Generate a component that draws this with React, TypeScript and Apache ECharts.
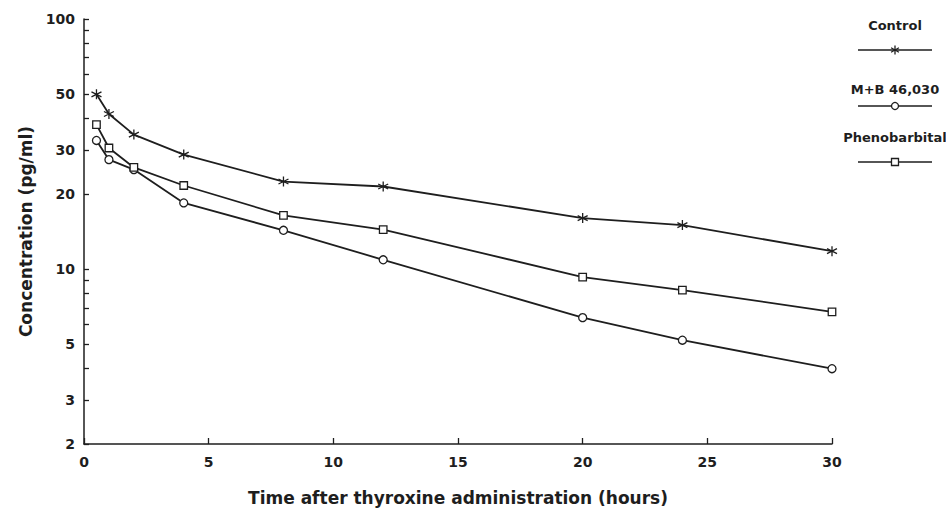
import React, { useEffect, useRef } from "react";
import * as echarts from "echarts";

// Time after thyroxine administration (hours)
const hours = [0.5, 1, 2, 4, 8, 12, 20, 24, 30];
// Concentration (pg/ml)
const control = [50, 41.7, 34.5, 28.7, 22.4, 21.4, 16.0, 15.0, 11.8];
const mb46030 = [32.7, 27.4, 25.0, 18.4, 14.3, 10.9, 6.4, 5.2, 4.0];
const phenobarbital = [37.8, 30.5, 25.5, 21.6, 16.4, 14.4, 9.3, 8.25, 6.75];
const seriesNames = ["Control", "M+B 46,030", "Phenobarbital"];
const yLabelValues = [2, 3, 5, 10, 20, 30, 50, 100];
const yTickValues = [2, 3, 4, 5, 6, 7, 8, 9, 10, 20, 30, 40, 50, 60, 70, 80, 90, 100];

const INK = "#1e1e1e";
const FONT = "DejaVu Sans";
const ASTERISK = "path://M5,0L5,10M0.67,2.5L9.33,7.5M0.67,7.5L9.33,2.5";

export default function App() {
  const ref = useRef<HTMLDivElement>(null);
  useEffect(() => {
    document.body.style.margin = "0";
    if (!ref.current) return;
    const chart = echarts.init(ref.current, undefined, { renderer: "svg" });
    const toPts = (vals: number[]) => hours.map((h, i) => [h, Math.log10(vals[i])]);

    const legendX = 895;
    const legendItems = [
      { name: seriesNames[0], ty: 25, ly: 50, kind: "asterisk" },
      { name: seriesNames[1], ty: 89, ly: 106, kind: "circle" },
      { name: seriesNames[2], ty: 137, ly: 162, kind: "square" },
    ];
    const graphics: any[] = [];
    legendItems.forEach((it) => {
      graphics.push({
        type: "text",
        x: legendX,
        y: it.ty,
        style: { text: it.name, fill: INK, font: `bold 13px "${FONT}"`, align: "center", verticalAlign: "middle" },
      });
      graphics.push({
        type: "line",
        shape: { x1: 858, y1: it.ly, x2: 932, y2: it.ly },
        style: { stroke: INK, lineWidth: 1.6 },
      });
      if (it.kind === "circle") {
        graphics.push({ type: "circle", shape: { cx: legendX, cy: it.ly, r: 3.5 }, style: { fill: "#fff", stroke: INK, lineWidth: 1.3 } });
      } else if (it.kind === "square") {
        graphics.push({ type: "rect", shape: { x: legendX - 3.5, y: it.ly - 3.5, width: 7, height: 7 }, style: { fill: "#fff", stroke: INK, lineWidth: 1.3 } });
      } else {
        const s = 4.5;
        graphics.push({ type: "line", shape: { x1: legendX, y1: it.ly - s, x2: legendX, y2: it.ly + s }, style: { stroke: INK, lineWidth: 1.3 } });
        graphics.push({ type: "line", shape: { x1: legendX - s * 0.87, y1: it.ly - s / 2, x2: legendX + s * 0.87, y2: it.ly + s / 2 }, style: { stroke: INK, lineWidth: 1.3 } });
        graphics.push({ type: "line", shape: { x1: legendX - s * 0.87, y1: it.ly + s / 2, x2: legendX + s * 0.87, y2: it.ly - s / 2 }, style: { stroke: INK, lineWidth: 1.3 } });
      }
    });

    const baseSeries = {
      type: "line",
      lineStyle: { color: INK, width: 1.8 },
      symbolSize: 8,
      z: 3,
    };

    chart.setOption({
      animation: false,
      backgroundColor: "#fff",
      grid: { left: 84, right: 114, top: 19, bottom: 67, containLabel: false, outerBoundsMode: "none" },
      xAxis: {
        type: "value",
        min: 0,
        max: 30,
        interval: 5,
        name: "Time after thyroxine administration (hours)",
        nameLocation: "middle",
        nameGap: 45,
        nameTextStyle: { color: INK, fontFamily: FONT, fontWeight: "bold", fontSize: 17 },
        axisLine: { show: true, lineStyle: { color: INK, width: 1.5 } },
        axisTick: { show: true, inside: true, length: 6, lineStyle: { color: INK, width: 1.3 } },
        axisLabel: { color: INK, fontFamily: FONT, fontWeight: "bold", fontSize: 14, margin: 11 },
        splitLine: { show: false },
      },
      yAxis: {
        type: "value",
        min: Math.log10(2),
        max: 2,
        name: "Concentration (pg/ml)",
        nameLocation: "middle",
        nameRotate: 90,
        nameGap: 45,
        nameTextStyle: { color: INK, fontFamily: FONT, fontWeight: "bold", fontSize: 17 },
        axisLine: { show: true, lineStyle: { color: INK, width: 1.5 } },
        axisTick: {
          show: true,
          inside: true,
          length: 5,
          customValues: yTickValues.map((v) => Math.log10(v)),
          lineStyle: { color: INK, width: 1.3 },
        },
        axisLabel: {
          color: INK,
          fontFamily: FONT,
          fontWeight: "bold",
          fontSize: 14,
          margin: 9,
          customValues: yLabelValues.map((v) => Math.log10(v)),
          formatter: (v: number) => String(Math.round(Math.pow(10, v))),
        },
        splitLine: { show: false },
      },
      series: [
        {
          ...baseSeries,
          name: seriesNames[0],
          data: toPts(control),
          symbol: ASTERISK,
          symbolSize: 10,
          itemStyle: { color: INK, borderColor: INK, borderWidth: 1.3 },
        },
        {
          ...baseSeries,
          name: seriesNames[1],
          data: toPts(mb46030),
          symbol: "circle",
          itemStyle: { color: "#fff", borderColor: INK, borderWidth: 1.3 },
        },
        {
          ...baseSeries,
          name: seriesNames[2],
          data: toPts(phenobarbital),
          symbol: "rect",
          symbolSize: 7.5,
          itemStyle: { color: "#fff", borderColor: INK, borderWidth: 1.3 },
        },
      ],
      graphic: graphics,
    });
    return () => chart.dispose();
  }, []);
  return <div ref={ref} style={{ width: 946, height: 511 }} />;
}
